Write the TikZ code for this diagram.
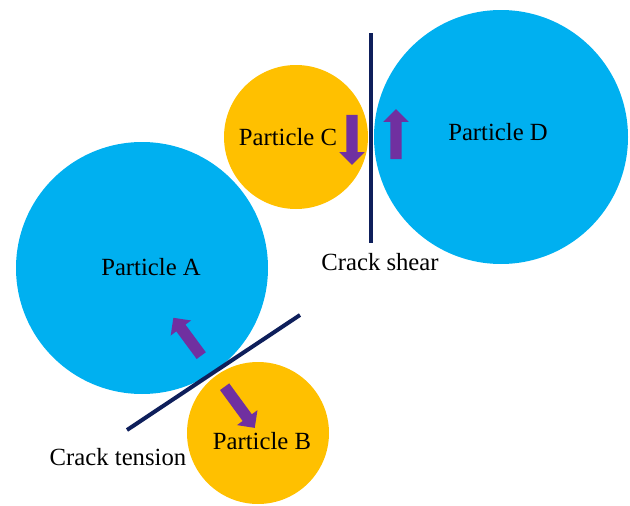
\documentclass[tikz,border=0pt]{standalone}
\usepackage{fontspec}
\setmainfont{Liberation Serif}
\usetikzlibrary{shapes.arrows}
\definecolor{partblue}{HTML}{00B0F0}
\definecolor{partorange}{HTML}{FFC000}
\definecolor{arrpurple}{HTML}{7030A0}
\definecolor{cracknavy}{HTML}{0E1F5B}
\tikzset{
  particle/.style={circle, inner sep=0pt, draw=none},
  blockarr/.style={single arrow, fill=arrpurple, draw=none, inner sep=0pt,
    text height=5.5pt, text depth=5.5pt, text width=0pt,
    single arrow head extend=7pt, single arrow tip angle=90},
  crack/.style={cracknavy, line width=4pt},
  lbl/.style={font=\fontsize{24.7}{29}\selectfont, inner sep=0pt}
}
\begin{document}
\begin{tikzpicture}[x=1pt, y=-1pt]
      \useasboundingbox (0,0) rectangle (630,506);
      % Particles
      \node[particle, fill=partblue, minimum size=252pt] (partA) at (142,268) {};
      \node[particle, fill=partorange, minimum size=142pt] (partB) at (258,433) {};
      \node[particle, fill=partorange, minimum size=144pt] (partC) at (296,137) {};
      \node[particle, fill=partblue, minimum size=254pt] (partD) at (501,137) {};
      % Labels of the particles
      \node[lbl] (labA) at (151,267) {Particle A};
      \node[lbl] (labB) at (262,441) {Particle B};
      \node[lbl] (labC) at (288,137) {Particle C};
      \node[lbl] (labD) at (498,132) {Particle D};
      % Cracks
      \coordinate (shearTop) at (371,33);
      \coordinate (shearBot) at (371,243);
      \draw[crack] (shearTop) -- (shearBot);
      \coordinate (tensLow) at (127,430);
      \coordinate (tensHigh) at (300,315);
      \draw[crack] (tensLow) -- (tensHigh);
      \node[lbl] (labShear) at (380,262) {Crack shear};
      \node[lbl] (labTension) at (118,457) {Crack tension};
      % Block arrows
      \node[blockarr, minimum height=47pt, rotate=126.4] (arrA) at (189,339) {};
      \node[blockarr, minimum height=51pt, rotate=-53.8] (arrB) at (238,405) {};
      \node[blockarr, minimum height=50pt, rotate=-90] (arrC) at (352,137) {};
      \node[blockarr, minimum height=50pt, rotate=90] (arrD) at (396,137) {};
\end{tikzpicture}
\end{document}
